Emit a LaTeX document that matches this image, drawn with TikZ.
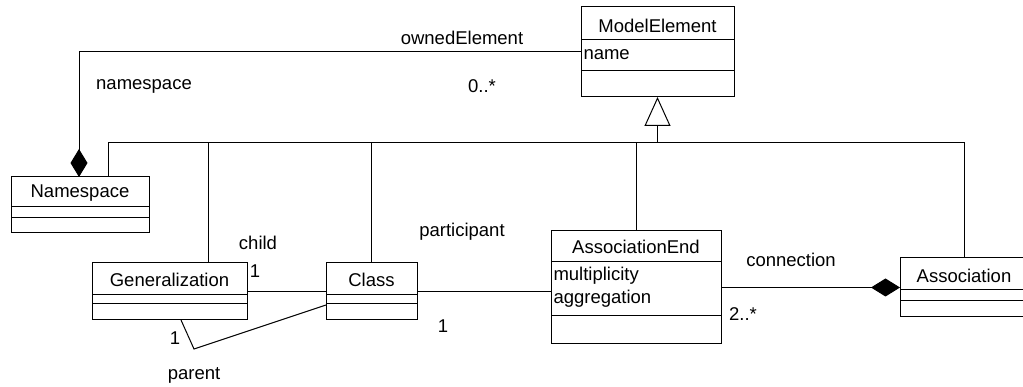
\documentclass[tikz,border=0pt]{standalone}
\usepackage{fontspec}
\setmainfont{Liberation Sans}
\usetikzlibrary{arrows.meta}
\begin{document}
\begin{tikzpicture}[x=1pt,y=-1pt,line width=1pt,
  cls/.style={draw, anchor=north west, inner sep=0pt, outer sep=0pt},
  lbl/.style={font=\fontsize{18.5}{21}\selectfont, inner sep=0pt},
  attr/.style={lbl, anchor=west},
  comp/.style={-{Diamond[length=28pt,width=17pt]}},
  gen/.style={-{Triangle[open,length=29pt,width=26pt,fill=white]}}]
\clip (0,0) rectangle (1023,387);
\fill[white] (0,0) rectangle (1023,387);
% class boxes
\node[cls, minimum width=153pt, minimum height=90pt] (me) at (581,7) {};
\node[cls, minimum width=138pt, minimum height=56pt] (ns) at (11,177) {};
\node[cls, minimum width=155pt, minimum height=57pt] (gen) at (92,263) {};
\node[cls, minimum width=91pt, minimum height=57pt] (class) at (326,263) {};
\node[cls, minimum width=170pt, minimum height=113pt] (ae) at (551,231) {};
\node[cls, minimum width=128pt, minimum height=59pt] (assoc) at (900,258) {};
% compartments
\draw (me.west |- 0,40) -- (me.east |- 0,40);
\draw (me.west |- 0,71) -- (me.east |- 0,71);
\draw (ns.west |- 0,207) -- (ns.east |- 0,207);
\draw (ns.west |- 0,218) -- (ns.east |- 0,218);
\draw (gen.west |- 0,295) -- (gen.east |- 0,295);
\draw (gen.west |- 0,304) -- (gen.east |- 0,304);
\draw (class.west |- 0,295) -- (class.east |- 0,295);
\draw (class.west |- 0,304) -- (class.east |- 0,304);
\draw (ae.west |- 0,262) -- (ae.east |- 0,262);
\draw (ae.west |- 0,316) -- (ae.east |- 0,316);
\draw (assoc.west |- 0,290) -- (assoc.east |- 0,290);
\draw (assoc.west |- 0,301) -- (assoc.east |- 0,301);
% titles
\node[lbl] (met) at (me.north |- 0,26) {ModelElement};
\node[attr] (mea) at (583,55) {name};
\node[lbl] (nst) at (ns.north |- 0,193) {Namespace};
\node[lbl] (gent) at (gen.north |- 0,280) {Generalization};
\node[lbl] (classt) at (class.north |- 0,280) {Class};
\node[lbl] (aet) at (ae.north |- 0,247) {AssociationEnd};
\node[attr] (aea1) at (553,276) {multiplicity};
\node[attr] (aea2) at (553,299) {aggregation};
\node[lbl] (assoct) at (assoc.north |- 0,276) {Association};
% generalization tree
\coordinate (bus) at (me.south |- 0,143);
\draw[gen] (bus) -- (me.south);
\draw (bus) -| ([xshift=97pt]ns.north west);
\draw (bus) -| ([xshift=116pt]gen.north west);
\draw (bus) -| (class.north);
\draw (bus) -| (ae.north);
\draw (bus) -| (assoc.north);
% associations
\draw[comp] (me.west) -| ([xshift=68pt]ns.north west);
\draw (gen.east) -- (class.west);
\draw ([xshift=89pt]gen.south west) -- ++(13,29) -- ([yshift=15pt]class.south west);
\draw (class.east) -- (ae.west |- class.east);
\draw[-{Diamond[length=29pt,width=18pt]}] (ae.east |- assoc.west) -- (assoc.west);
% labels
\node[lbl] (l1) at (462,38) {ownedElement};
\node[lbl] (l2) at (482,86) {0..*};
\node[lbl] (l3) at (144,86) {namespace};
\node[lbl] (l4) at (258,243) {child};
\node[lbl] (l5) at (255,271) {1};
\node[lbl] (l6) at (175,338) {1};
\node[lbl] (l7) at (194,375) {parent};
\node[lbl] (l8) at (462,232) {participant};
\node[lbl] (l9) at (443,326) {1};
\node[lbl] (l10) at (791,260) {connection};
\node[lbl] (l11) at (743,314) {2..*};
\end{tikzpicture}
\end{document}
